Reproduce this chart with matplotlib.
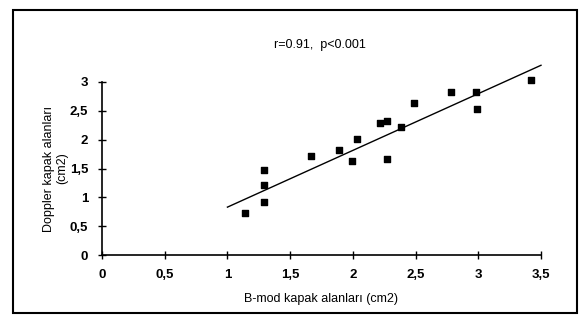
import numpy as np
import matplotlib
matplotlib.use("Agg")
import matplotlib.pyplot as plt
from matplotlib.patches import Rectangle

plt.rcParams["font.family"] = ["Liberation Sans", "DejaVu Sans"]

# B-mod ve Doppler kapak alanlari (cm2)
bmod = [1.14, 1.29, 1.29, 1.29, 1.67, 1.89, 1.99, 2.03, 2.22, 2.27,
        2.27, 2.38, 2.49, 2.78, 2.98, 2.99, 3.42]
doppler = [0.73, 1.47, 1.21, 0.92, 1.72, 1.82, 1.63, 2.01, 2.29, 2.32,
           1.66, 2.22, 2.63, 2.82, 2.82, 2.53, 3.03]
# regresyon cizgisi uclari
line_x = [1.0, 3.5]
line_y = [0.83, 3.29]

xticks = [0, 0.5, 1, 1.5, 2, 2.5, 3, 3.5]
yticks = [0, 0.5, 1, 1.5, 2, 2.5, 3]
fmt = lambda v: ("%g" % v).replace(".", ",")

fig = plt.figure(figsize=(5.79, 3.25), dpi=100)
ax = fig.add_axes([102/579, 1-255/325, (541-102)/579, (255-82)/325])

ax.scatter(bmod, doppler, marker="s", s=22, color="black", zorder=3, clip_on=False)
ax.plot(line_x, line_y, color="black", lw=1.0, clip_on=False)

ax.set_xlim(0, 3.5)
ax.set_ylim(0, 3)
ax.set_xticks(xticks)
ax.set_yticks(yticks)
ax.set_xticklabels([fmt(v) for v in xticks], fontweight="bold", fontsize=9.5)
ax.set_yticklabels([fmt(v) for v in yticks], fontweight="bold", fontsize=9.5)
ax.tick_params(direction="inout", length=6, width=1)
ax.tick_params(axis="x", pad=7)
ax.tick_params(axis="y", pad=7)
for s in ["top", "right"]:
    ax.spines[s].set_visible(False)
ax.spines["left"].set_linewidth(1.2)
ax.spines["bottom"].set_linewidth(1.2)
ax.patch.set_alpha(0)

ax.set_xlabel("B-mod kapak alanları (cm2)", fontsize=9, labelpad=9)
ax.set_ylabel("Doppler kapak alanları\n(cm2)", fontsize=9, labelpad=1)
fig.text(320/579, 1-45/325, "r=0.91,  p<0.001", fontsize=9, ha="center", va="center")

fig.patches.append(Rectangle((13/579, 1-313/325), (577-13)/579, (313-10)/325,
                             transform=fig.transFigure, fill=False, lw=1.5,
                             edgecolor="black"))

fig.savefig("out.png", dpi=100)
